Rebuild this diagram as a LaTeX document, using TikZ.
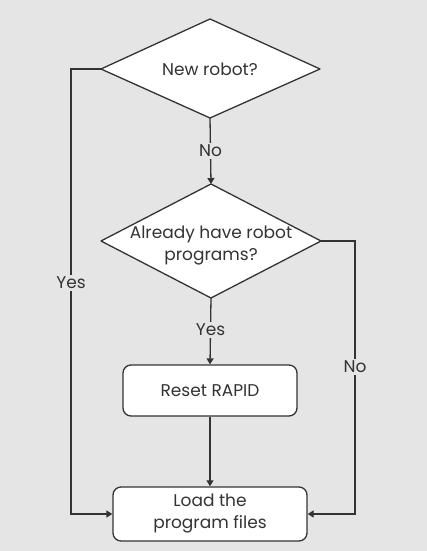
\documentclass[tikz,border=0pt]{standalone}
\usepackage{fontspec}
\setmainfont{Poppins}
\usetikzlibrary{arrows.meta}
\definecolor{bg}{HTML}{E5E5E5}
\definecolor{ink}{HTML}{333333}
\begin{document}
\begin{tikzpicture}[x=1pt,y=1pt,
  font=\fontsize{17}{22}\selectfont, text=ink,
  shapeline/.style={draw=ink, fill=white, line width=1.3pt, line join=round},
  dtext/.style={inner sep=0pt, align=center, text=ink},
  process/.style={rectangle, rounded corners=8pt, draw=ink, fill=white, line width=1.3pt, inner sep=0pt, align=center},
  flow/.style={draw=ink, line width=1.3pt, -{Triangle[length=6pt,width=7pt]}},
  lbl/.style={fill=bg, inner sep=2pt, text=ink}]
\fill[bg] (0,0) rectangle (427,551);
\useasboundingbox (0,0) rectangle (427,551);
% decision 1
\coordinate (d1n) at (210,532);
\coordinate (d1s) at (210,433);
\coordinate (d1w) at (101,482);
\coordinate (d1e) at (320,482);
\draw[shapeline] (d1n) -- (d1e) -- (d1s) -- (d1w) -- cycle;
\node[dtext] (d1) at (210,482) {New robot?};
% decision 2
\coordinate (d2n) at (211,367);
\coordinate (d2s) at (211,253);
\coordinate (d2w) at (101,310);
\coordinate (d2e) at (321,310);
\draw[shapeline] (d2n) -- (d2e) -- (d2s) -- (d2w) -- cycle;
\node[dtext] (d2) at (211,305) {Already have robot\\programs?};
% processes
\node[process, minimum width=174pt, minimum height=51pt] (reset) at (210,160.5) {Reset RAPID};
\node[process, minimum width=194pt, minimum height=54pt] (load) at (210,37) {Load the\\program files};
\coordinate (lc1) at (71,482);
\coordinate (lc2) at (71,37);
\coordinate (rc1) at (355,310);
\coordinate (rc2) at (355,37);
\draw[flow] (d1s) -- node[lbl] {No} (d2n);
\draw[flow] (d2s) -- node[lbl, pos=0.48] {Yes} (reset.north);
\draw[flow] (reset.south) -- (load.north);
\draw[flow] (d1w) -- (lc1) -- node[lbl, pos=0.48] {Yes} (lc2) -- (load.west);
\draw[flow] (d2e) -- (rc1) -- node[lbl, pos=0.46] {No} (rc2) -- (load.east);
\end{tikzpicture}
\end{document}
